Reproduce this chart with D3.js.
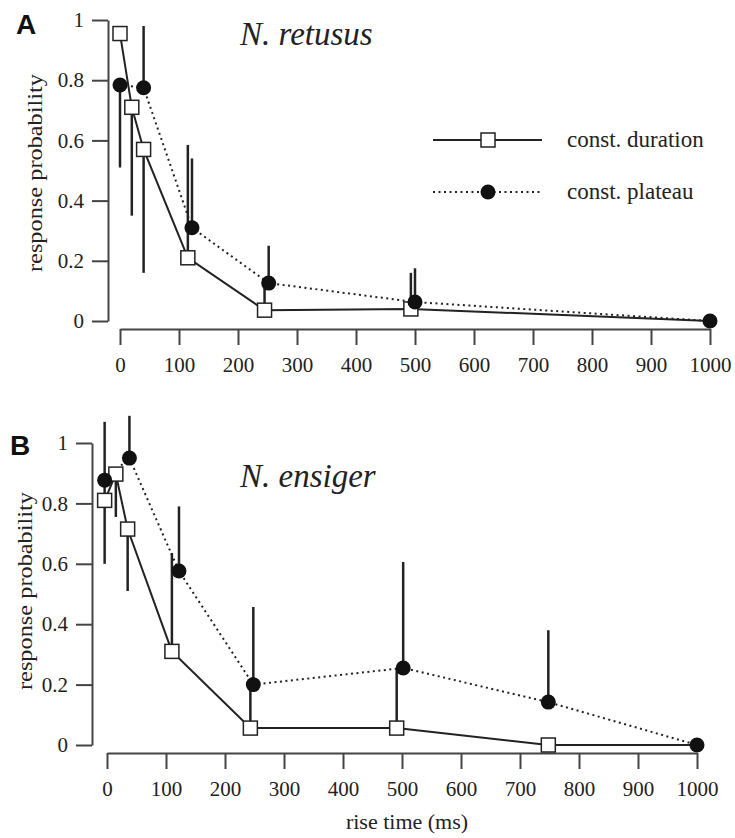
<!DOCTYPE html>
<html>
<head>
<meta charset="utf-8">
<script src="https://cdn.jsdelivr.net/npm/d3@7.9.0/dist/d3.min.js"></script>
<style>
  html, body { margin: 0; padding: 0; background: #fff; }
  svg { display: block; }
  text { font-family: "Liberation Serif", "DejaVu Serif", serif; fill: #222; }
</style>
</head>
<body>
<div id="chart"></div>
<script>
// tick values shared by both panels
const xTicks = [0, 100, 200, 300, 400, 500, 600, 700, 800, 900, 1000];
const yTicks = [0, 0.2, 0.4, 0.6, 0.8, 1];

// panel A, N. retusus : constant duration (open squares)
const retDurX  = [0, 20, 40, 115, 245, 493, 1000];
const retDurY  = [0.955, 0.71, 0.57, 0.21, 0.036, 0.04, 0];
const retDurLo = [null, 0.35, 0.16, null, null, null, null];
const retDurHi = [null, null, null, 0.585, 0.12, 0.16, null];
const retDurShown = [true, true, true, true, true, true, false]; // last one sits under the circle

// panel A, N. retusus : constant plateau (filled circles)
const retPlaX  = [0, 40, 122, 252, 500, 1000];
const retPlaY  = [0.784, 0.775, 0.31, 0.126, 0.063, 0];
const retPlaLo = [0.51, null, null, null, null, null];
const retPlaHi = [null, 0.98, 0.54, 0.25, 0.175, null];

// panel B, N. ensiger : constant duration
const ensDurX  = [-4, 15, 35, 110, 243, 491, 748, 1000];
const ensDurY  = [0.81, 0.897, 0.715, 0.31, 0.056, 0.056, 0, 0];
const ensDurLo = [null, 0.755, 0.51, null, null, null, null, null];
const ensDurHi = [null, null, null, 0.636, 0.2, 0.255, null, null];
const ensDurShown = [true, true, true, true, true, true, true, false];

// panel B, N. ensiger : constant plateau
const ensPlaX  = [-4, 38, 122, 248, 502, 748, 1000];
const ensPlaY  = [0.877, 0.95, 0.576, 0.2, 0.255, 0.142, 0];
const ensPlaLo = [0.6, null, null, null, null, null, null];
const ensPlaHi = [1.07, 1.09, 0.79, 0.457, 0.606, 0.38, null];

const legendLabels = ['const. duration', 'const. plateau'];

function toPoints(xs, ys, los, his, shown) {
  return xs.map((x, i) => ({ x, y: ys[i], lo: los[i], hi: his[i], shown: shown ? shown[i] : true }));
}

const width = 735;
const height = 838;

const svg = d3.select('#chart')
  .append('svg')
  .attr('width', width)
  .attr('height', height)
  .attr('viewBox', `0 0 ${width} ${height}`);

function styleAxis(g) {
  g.selectAll('path, line').attr('stroke', '#444').attr('stroke-width', 2);
  g.selectAll('text')
    .attr('font-family', '"Liberation Serif", serif')
    .attr('font-size', 21)
    .attr('fill', '#222');
}

function drawPanel(p) {
  const xScale = d3.scaleLinear().domain([0, 1000]).range(p.xRange);
  const yScale = d3.scaleLinear().domain([0, 1]).range(p.yRange);

  svg.append('g')
    .attr('transform', `translate(${p.yAxisX}, 0)`)
    .call(d3.axisLeft(yScale).tickValues(yTicks).tickFormat(d3.format('~g'))
      .tickSize(16).tickSizeOuter(0).tickPadding(8))
    .call(styleAxis);

  svg.append('g')
    .attr('transform', `translate(0, ${p.xAxisY})`)
    .call(d3.axisBottom(xScale).tickValues(xTicks).tickFormat(d3.format('d'))
      .tickSize(16).tickSizeOuter(0).tickPadding(12))
    .call(styleAxis);

  // y title
  svg.append('text')
    .attr('transform', `translate(${p.yTitleX}, ${p.yTitleY}) rotate(-90)`)
    .attr('text-anchor', 'middle')
    .attr('font-size', 22)
    .attr('textLength', 198)
    .attr('lengthAdjust', 'spacingAndGlyphs')
    .text('response probability');

  // panel letter
  svg.append('text')
    .attr('x', p.letterX)
    .attr('y', p.letterY)
    .attr('font-weight', 'bold')
    .attr('font-size', 28)
    .style('font-family', 'Arial, "Liberation Sans", sans-serif')
    .style('fill', '#111')
    .text(p.letter);

  // species name
  svg.append('text')
    .attr('x', 240)
    .attr('y', p.speciesY)
    .attr('font-size', 33)
    .attr('font-style', 'italic')
    .text(p.species);

  const line = d3.line().x(d => xScale(d.x)).y(d => yScale(d.y));

  svg.append('path')
    .datum(p.plateau)
    .attr('d', line)
    .attr('fill', 'none')
    .attr('stroke', '#222')
    .attr('stroke-width', 2)
    .attr('stroke-dasharray', '2,3.5');

  svg.append('path')
    .datum(p.duration)
    .attr('d', line)
    .attr('fill', 'none')
    .attr('stroke', '#222')
    .attr('stroke-width', 2);

  const bars = p.duration.concat(p.plateau).filter(d => d.lo != null || d.hi != null);
  svg.append('g')
    .selectAll('line')
    .data(bars)
    .join('line')
    .attr('x1', d => xScale(d.x))
    .attr('x2', d => xScale(d.x))
    .attr('y1', d => yScale(d.lo != null ? d.lo : d.y))
    .attr('y2', d => yScale(d.hi != null ? d.hi : d.y))
    .attr('stroke', '#222')
    .attr('stroke-width', 2.5);

  svg.append('g')
    .selectAll('rect')
    .data(p.duration.filter(d => d.shown))
    .join('rect')
    .attr('x', d => xScale(d.x) - 7)
    .attr('y', d => yScale(d.y) - 7)
    .attr('width', 14)
    .attr('height', 14)
    .attr('fill', '#fff')
    .attr('stroke', '#222')
    .attr('stroke-width', 1.5);

  svg.append('g')
    .selectAll('circle')
    .data(p.plateau)
    .join('circle')
    .attr('cx', d => xScale(d.x))
    .attr('cy', d => yScale(d.y))
    .attr('r', 7.5)
    .attr('fill', '#111');
}

drawPanel({
  letter: 'A', letterX: 16, letterY: 34,
  species: 'N. retusus', speciesY: 45,
  xRange: [120, 710], yRange: [321, 20],
  yAxisX: 108, xAxisY: 329,
  yTitleX: 42, yTitleY: 173,
  duration: toPoints(retDurX, retDurY, retDurLo, retDurHi, retDurShown),
  plateau: toPoints(retPlaX, retPlaY, retPlaLo, retPlaHi),
});

drawPanel({
  letter: 'B', letterX: 10, letterY: 455,
  species: 'N. ensiger', speciesY: 487,
  xRange: [107, 697], yRange: [745, 443],
  yAxisX: 92, xAxisY: 753,
  yTitleX: 32, yTitleY: 591,
  duration: toPoints(ensDurX, ensDurY, ensDurLo, ensDurHi, ensDurShown),
  plateau: toPoints(ensPlaX, ensPlaY, ensPlaLo, ensPlaHi),
});

// x title
svg.append('text')
  .attr('x', 407)
  .attr('y', 829)
  .attr('text-anchor', 'middle')
  .attr('font-size', 22)
  .text('rise time (ms)');

// legend (panel A)
const legend = svg.append('g').attr('class', 'legend');
const legendY = [140, 192];

legend.selectAll('line')
  .data(legendLabels)
  .join('line')
  .attr('x1', 433)
  .attr('x2', 542)
  .attr('y1', (d, i) => legendY[i])
  .attr('y2', (d, i) => legendY[i])
  .attr('stroke', '#222')
  .attr('stroke-width', 2)
  .attr('stroke-dasharray', (d, i) => i === 1 ? '2,3.5' : null);

legend.append('rect')
  .attr('x', 488 - 7).attr('y', legendY[0] - 7)
  .attr('width', 14).attr('height', 14)
  .attr('fill', '#fff').attr('stroke', '#222').attr('stroke-width', 1.5);

legend.append('circle')
  .attr('cx', 488).attr('cy', legendY[1]).attr('r', 7.5)
  .attr('fill', '#111');

legend.selectAll('text')
  .data(legendLabels)
  .join('text')
  .attr('x', 567)
  .attr('y', (d, i) => legendY[i] + 7)
  .attr('font-size', 23)
  .text(d => d);
</script>
</body>
</html>
